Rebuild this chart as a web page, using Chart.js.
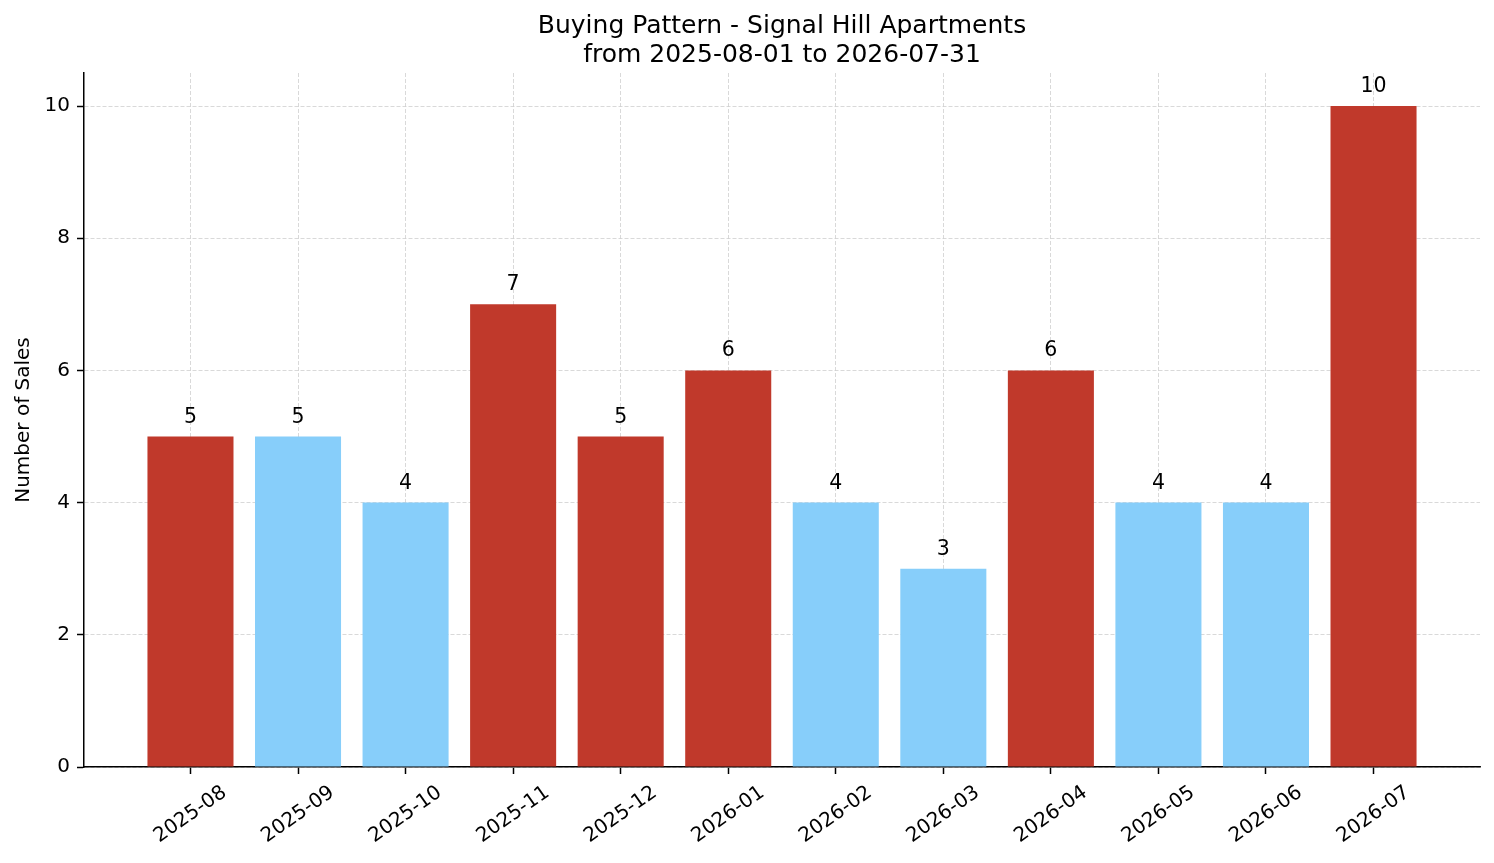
<!DOCTYPE html>
<html>
<head>
    <title>Buying Pattern - Signal Hill Apartments</title>
    <script src="https://cdn.jsdelivr.net/npm/chart.js"></script>
    <style>
        body { margin: 0; background: #fff; }
        canvas { display: block; }
    </style>
</head>
<body>
    <canvas id="salesChart" width="1494" height="863"></canvas>

    <script>
        const titleLines = ['Buying Pattern - Signal Hill Apartments', 'from 2025-08-01 to 2026-07-31'];
        const months = ['2025-08', '2025-09', '2025-10', '2025-11', '2025-12', '2026-01',
                        '2026-02', '2026-03', '2026-04', '2026-05', '2026-06', '2026-07'];
        const sales = [5, 5, 4, 7, 5, 6, 4, 3, 6, 4, 4, 10];
        const highlighted = [true, false, false, true, true, true, false, false, true, false, false, true];
        const yTicks = [0, 2, 4, 6, 8, 10];

        const FONT = '"DejaVu Sans", sans-serif';
        const RED = '#c0392b';
        const BLUE = '#87cefa';
        const GRID = '#cfcfcf';
        const TICK_LEN = 7;

        // title centred over the plot area (matplotlib style), not the canvas
        const axesTitle = {
            id: 'axesTitle',
            afterDraw(chart) {
                const ctx = chart.ctx;
                const area = chart.chartArea;
                const cx = (area.left + area.right) / 2;
                ctx.save();
                ctx.font = '25px ' + FONT;
                ctx.fillStyle = '#000';
                ctx.textAlign = 'center';
                ctx.textBaseline = 'alphabetic';
                ctx.fillText(titleLines[0], cx, 33);
                ctx.fillText(titleLines[1], cx, 62);
                ctx.restore();
            }
        };

        // value above each bar
        const valueLabels = {
            id: 'valueLabels',
            afterDraw(chart) {
                const ctx = chart.ctx;
                const meta = chart.getDatasetMeta(0);
                ctx.save();
                ctx.font = '20.5px ' + FONT;
                ctx.fillStyle = '#000';
                ctx.textAlign = 'center';
                ctx.textBaseline = 'alphabetic';
                meta.data.forEach((bar, i) => {
                    ctx.fillText(String(sales[i]), bar.x, bar.y - 14);
                });
                ctx.restore();
            }
        };

        // rotated month labels, centred under each tick like matplotlib
        const monthLabels = {
            id: 'monthLabels',
            afterDraw(chart) {
                const ctx = chart.ctx;
                const xs = chart.scales.x;
                const a = 35 * Math.PI / 180;
                ctx.save();
                ctx.font = '20px ' + FONT;
                ctx.fillStyle = '#000';
                ctx.textAlign = 'center';
                ctx.textBaseline = 'middle';
                months.forEach((m, i) => {
                    const w = ctx.measureText(m).width;
                    const h = 20 * 1.17;
                    const boxH = w * Math.sin(a) + h * Math.cos(a);
                    const cx = xs.getPixelForValue(i);
                    const cy = xs.top + TICK_LEN + 7 + boxH / 2;
                    ctx.save();
                    ctx.translate(cx, cy);
                    ctx.rotate(-a);
                    ctx.fillText(m, 0, 0);
                    ctx.restore();
                });
                ctx.restore();
            }
        };

        const gridOpts = {
            color: GRID,
            lineWidth: 0.8,
            tickColor: '#000',
            tickWidth: 1.5,
            tickLength: TICK_LEN,
            tickBorderDash: [],
            offset: false
        };

        new Chart(document.getElementById('salesChart').getContext('2d'), {
            type: 'bar',
            data: {
                datasets: [{
                    label: 'Number of Sales',
                    data: sales.map((v, i) => ({ x: i, y: v })),
                    backgroundColor: highlighted.map(h => h ? RED : BLUE),
                    borderWidth: 0,
                    barPercentage: 0.8,
                    categoryPercentage: 1.0
                }]
            },
            options: {
                responsive: false,
                animation: false,
                layout: { padding: { left: 0, right: 14, top: 73, bottom: 0 } },
                plugins: {
                    legend: { display: false },
                    tooltip: { enabled: false },
                    title: { display: false }
                },
                scales: {
                    x: {
                        type: 'linear',
                        offset: false,
                        min: -0.99,
                        max: 11.99,
                        z: 1,
                        afterBuildTicks: s => { s.ticks = months.map((_, i) => ({ value: i })); },
                        afterFit: s => { s.height = 863 - 767; },
                        ticks: { display: false },
                        grid: gridOpts,
                        border: { display: true, color: '#000', width: 1.5, dash: [4, 2] }
                    },
                    y: {
                        min: 0,
                        max: 10.5,
                        z: 1,
                        afterBuildTicks: s => { s.ticks = yTicks.map(v => ({ value: v })); },
                        afterFit: s => { s.width = 84; },
                        ticks: {
                            color: '#000',
                            font: { family: FONT, size: 20 },
                            padding: 7
                        },
                        grid: gridOpts,
                        border: { display: true, color: '#000', width: 1.5, dash: [4, 2] },
                        title: {
                            display: true,
                            text: 'Number of Sales',
                            color: '#000',
                            font: { family: FONT, size: 20 },
                            padding: { top: 12, bottom: 0 }
                        }
                    }
                }
            },
            plugins: [axesTitle, valueLabels, monthLabels]
        });
    </script>
</body>
</html>
